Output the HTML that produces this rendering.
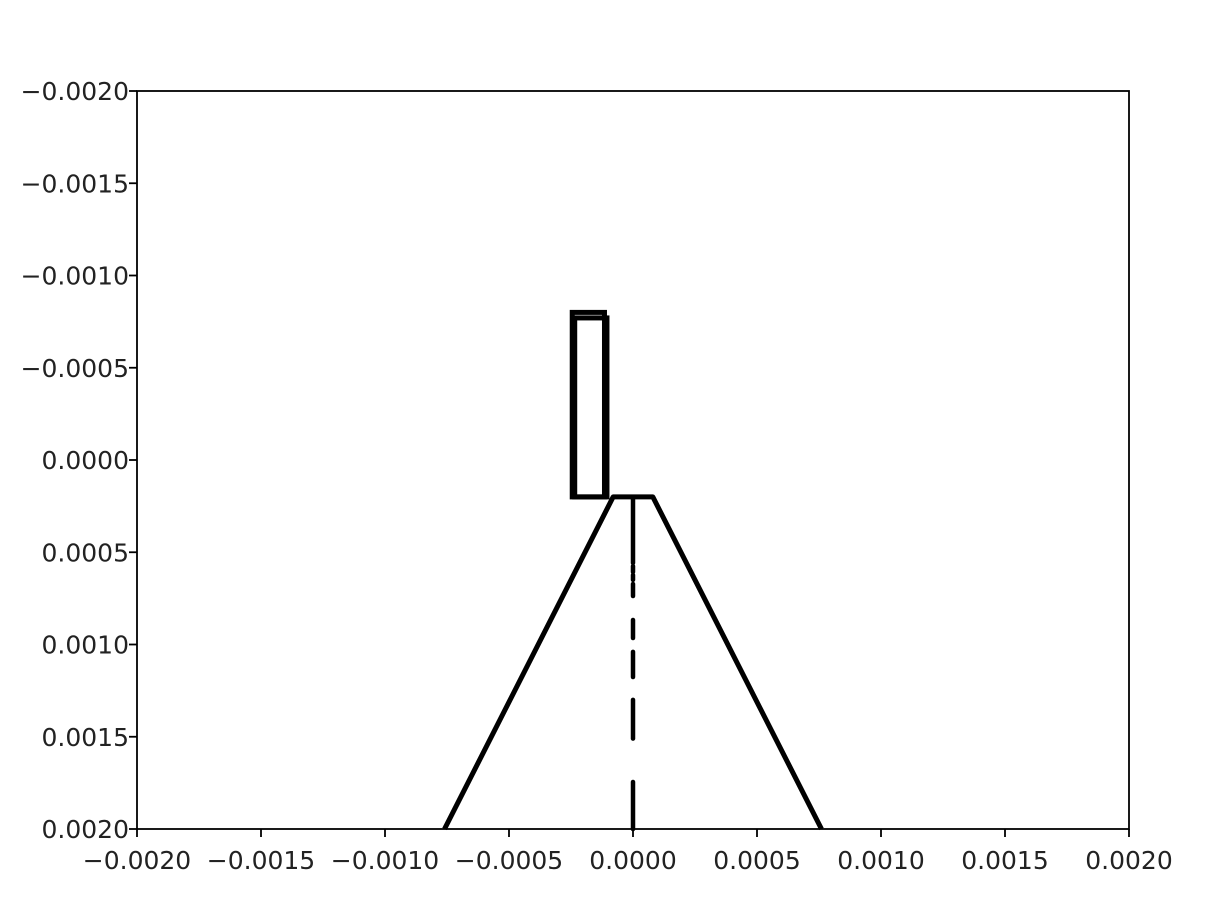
<!DOCTYPE html>
<html><head><meta charset="utf-8"><style>
html,body{margin:0;padding:0;background:#fff;}
svg text{font-family:"DejaVu Sans","Liberation Sans",sans-serif;font-size:25px;fill:#222;}
</style></head><body>
<svg id="chart" width="1228" height="906" xmlns="http://www.w3.org/2000/svg">
<rect x="137" y="91" width="992" height="738" fill="#fff"/>
<g id="marks"></g>
<g id="axes"></g>
</svg>
<script>
const xTicks=[-0.002,-0.0015,-0.001,-0.0005,0,0.0005,0.001,0.0015,0.002];
const xTickLabels=["−0.0020","−0.0015","−0.0010","−0.0005","0.0000","0.0005","0.0010","0.0015","0.0020"];
const yTicks=[-0.002,-0.0015,-0.001,-0.0005,0,0.0005,0.001,0.0015,0.002];
const yTickLabels=["−0.0020","−0.0015","−0.0010","−0.0005","0.0000","0.0005","0.0010","0.0015","0.0020"];
const rectA=[-0.000245,-0.0008,-0.000115,0.0002];
const rectB=[-0.000235,-0.00077,-0.000105,0.0002];
const trapX=[-0.00076,-0.00008,0.00008,0.00076];
const trapY=[0.002,0.0002,0.0002,0.002];
const centerDashes=[[0.000206,0.000558],[0.000575,0.000607],[0.000623,0.00065],[0.000672,0.000737],[0.000867,0.000965],[0.00104,0.001176],[0.0013,0.00151],[0.001745,0.002]];
const L=137,R=1129,T=91,B=829;
const sx=v=>L+(v+0.002)/0.004*(R-L);
const sy=v=>T+(v+0.002)/0.004*(B-T);
const NS="http://www.w3.org/2000/svg";
const marks=document.getElementById('marks'),axes=document.getElementById('axes');
function mk(tag,attrs,parent){const e=document.createElementNS(NS,tag);for(const k in attrs)e.setAttribute(k,attrs[k]);parent.appendChild(e);return e;}
[rectA,rectB].forEach((r,i)=>{
 const e=mk('rect',{x:sx(r[0]),y:sy(r[1]),width:sx(r[2])-sx(r[0]),height:sy(r[3])-sy(r[1]),fill:'none',stroke:'#000','stroke-width':5},marks);
 
 
});
const tp=mk('polyline',{points:trapX.map((x,i)=>sx(x)+','+sy(trapY[i])).join(' '),fill:'none',stroke:'#000','stroke-width':5,'stroke-linejoin':'round'},marks);


centerDashes.forEach((d,i)=>{
 const e=mk('line',{x1:sx(0),x2:sx(0),y1:sy(d[0]),y2:sy(d[1]),stroke:'#000','stroke-width':4.5,'stroke-linecap':'round'},marks);
 
 
});
const frame=mk('rect',{x:L,y:T,width:R-L,height:B-T,fill:'none',stroke:'#000','stroke-width':1.8},axes);


xTicks.forEach((v,i)=>{
 const x=sx(v);
 const t=mk('line',{x1:x,x2:x,y1:B,y2:B+8,stroke:'#000','stroke-width':1.8},axes);
 
 
 const tx=mk('text',{x:x,y:B+40,'text-anchor':'middle'},axes);
 tx.textContent=xTickLabels[i];
 
 
});
yTicks.forEach((v,i)=>{
 const y=sy(v);
 const t=mk('line',{x1:L-8,x2:L,y1:y,y2:y,stroke:'#000','stroke-width':1.8},axes);
 
 
 const tx=mk('text',{x:L-8,y:y+9,'text-anchor':'end'},axes);
 tx.textContent=yTickLabels[i];
 
 
});
</script>
</body></html>
